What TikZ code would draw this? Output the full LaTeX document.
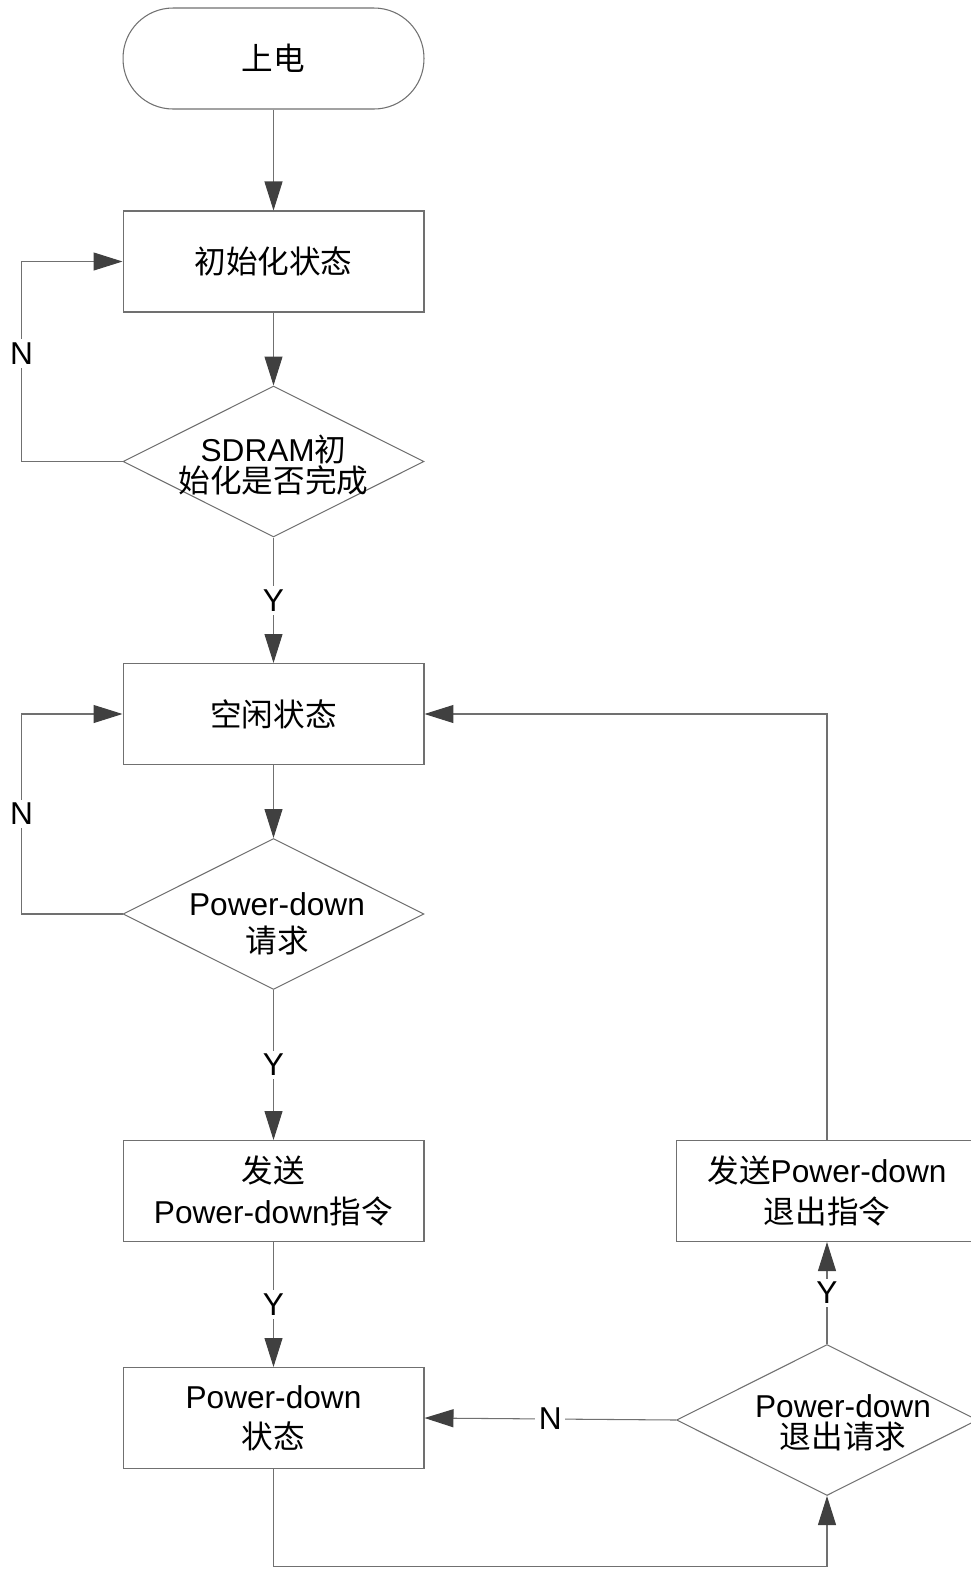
\documentclass[tikz,border=0pt]{standalone}
\usepackage{fontspec}
\setmainfont{Liberation Sans}
\newfontfamily\cjk{Noto Sans CJK SC}
\usetikzlibrary{shapes.geometric,arrows.meta}
\newcommand{\zh}[1]{{\cjk #1}}
\definecolor{linegray}{RGB}{112,112,112}
\definecolor{tipgray}{RGB}{64,64,64}
\tikzset{
	txt/.style={font=\fontsize{18}{23}\selectfont, align=center, text=black},
	tight/.style={font=\fontsize{18}{18}\selectfont, align=center, text=black},
	start/.style={draw=linegray, line width=0.6pt, rectangle, rounded corners=1cm, minimum width=6.02cm, minimum height=2.02cm, txt},
	proc/.style={draw=linegray, line width=0.6pt, rectangle, minimum width=6.02cm, minimum height=2.02cm, txt},
	cond/.style={draw=linegray, line width=0.6pt, diamond, minimum width=6.02cm, minimum height=3.02cm, inner sep=0pt},
	line/.style={draw=linegray, line width=0.6pt, -{Triangle[length=0.58cm,width=0.36cm,color=tipgray]}},
	yn/.style={fill=white, inner sep=2pt, txt}
}
\begin{document}
\begin{tikzpicture}[x=0.02cm, y=-0.02cm]
			\clip (0,0) rectangle (971,1570);
			\node[start] (st) at (273.5,58.5) {\zh{上电}};
			\node[proc] (init) at (273.5,261.5) {\zh{初始化状态}};
			\node[cond] (d1) at (273.5,461.5) {};
			\node[tight] (d1t) at (273.5,465) {SDRAM\zh{初}\\\zh{始化是否完成}};
			\node[proc] (idle) at (273.5,714) {\zh{空闲状态}};
			\node[cond] (d2) at (273.5,914) {};
			\node[tight, font=\fontsize{18}{21}\selectfont] (d2t) at (277,924) {Power-down\\\zh{请求}};
			\node[proc] (send) at (273.5,1191) {\zh{发送}\\Power-down\zh{指令}};
			\node[proc] (pd) at (273.5,1418) {Power-down\\\zh{状态}};
			\node[cond] (d3) at (827,1420) {};
			\node[tight] (d3t) at (843,1423) {Power-down\\\zh{退出请求}};
			\node[proc] (exit) at (827,1191) {\zh{发送}Power-down\\\zh{退出指令}};

			\draw[line] (st) -- (init);
			\draw[line] (init) -- (d1);
			\draw[line] (d1.west) -- ++(-101,0) |- node[yn,pos=0.27] (n1) {N} (init.west);
			\draw[line] (d1) -- node[yn] (y1) {Y} (idle);
			\draw[line] (idle) -- (d2);
			\draw[line] (d2.west) -- ++(-101,0) |- node[yn,pos=0.25] (n2) {N} (idle.west);
			\draw[line] (d2) -- node[yn] (y2) {Y} (send);
			\draw[line] (send) -- node[yn] (y3) {Y} (pd);
			\draw[line] (pd.south) -- ++(0,97) -| (d3.south);
			\draw[line] (d3.west) -- node[yn] (n3) {N} (pd.east);
			\draw[line] (d3.north) -- node[yn] (y4) {Y} (exit.south);
			\draw[line] (exit.north) |- (idle.east);
\end{tikzpicture}
\end{document}
